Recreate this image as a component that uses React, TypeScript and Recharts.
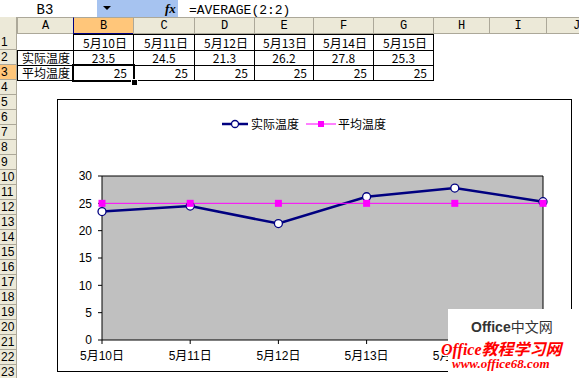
import type { CSSProperties } from "react";
import {
  CartesianGrid,
  Line,
  LineChart,
  ReferenceLine,
  XAxis,
  YAxis,
} from "recharts";

const dates = ["5月10日", "5月11日", "5月12日", "5月13日", "5月14日", "5月15日"];
const actualTemps = [23.5, 24.5, 21.3, 26.2, 27.8, 25.3];
const averageTemps = [25, 25, 25, 25, 25, 25];
const yTicks = [0, 5, 10, 15, 20, 25, 30];
const seriesNames = ["实际温度", "平均温度"];

const columnLetters = ["A", "B", "C", "D", "E", "F", "G", "H", "I", "J"];
const rowNumbers = [
  1, 2, 3, 4, 5, 6, 7, 8, 9, 10, 11, 12, 13, 14, 15, 16, 17, 18, 19, 20, 21,
  22, 23,
];

// sheet geometry (pixels)
const COL_EDGES = [17, 73, 133, 194, 254, 313, 373, 433, 489, 546, 606];
const HEADER_TOP = 17;
const HEADER_BOTTOM = 34;
const rowTop = (n: number) => (n === 1 ? 34 : 35 + (n - 1) * 15);
const rowBottom = (n: number) => rowTop(n + 1);

const HEADER_BG = "#ece9d8";
const HEADER_LINE = "#aca899";
const SELECTED_BG = "#ffc67a";
const NAVY = "#000080";
const MAGENTA = "#ff00ff";

const cellFont = '"Noto Sans CJK SC", "Liberation Sans", sans-serif';
const chartFont = '"Liberation Sans", "Noto Sans CJK SC", sans-serif';

const chartData = dates.map((date, i) => ({
  date,
  actual: actualTemps[i],
  average: averageTemps[i],
}));

function Cell({
  col,
  row,
  text,
  align = "center",
  bordered = true,
}: {
  col: number;
  row: number;
  text?: string;
  align?: "left" | "center" | "right";
  bordered?: boolean;
}) {
  const left = COL_EDGES[col];
  const top = rowTop(row);
  const style: CSSProperties = {
    position: "absolute",
    left,
    top,
    width: COL_EDGES[col + 1] - left + 1,
    height: rowBottom(row) - top + 1,
    boxSizing: "border-box",
    border: bordered ? "1px solid #000" : "none",
    fontFamily: cellFont,
    fontSize: 12,
    lineHeight: `${rowBottom(row) - top - 1}px`,
    textAlign: align,
    paddingLeft: align === "left" ? 4 : 0,
    paddingRight: align === "right" ? 6 : 0,
    color: "#000",
    whiteSpace: "nowrap",
    overflow: "hidden",
  };
  return <div style={style}>{text}</div>;
}

const SquareDot = (props: any) => {
  const { cx, cy, index } = props;
  if (cx == null || cy == null) return <g key={`sq-${index}`} />;
  return (
    <rect
      key={`sq-${index}`}
      x={cx - 3.5}
      y={cy - 3.5}
      width={7}
      height={7}
      fill={MAGENTA}
    />
  );
};

function Sheet() {
  return (
    <>
      {/* formula bar */}
      <div
        style={{
          position: "absolute",
          left: 97,
          top: 0,
          width: 81,
          height: 17,
          background: "#a6c3f0",
        }}
      />
      <svg
        width={579}
        height={18}
        style={{ position: "absolute", left: 0, top: 0 }}
      >
        <text
          x={45}
          y={14}
          textAnchor="middle"
          fontFamily='"Liberation Mono", monospace'
          fontSize={14}
        >
          B3
        </text>
        <polygon points="103,6 111,6 107,10" fill="#000" />
        <text
          x={165}
          y={13}
          fontFamily='"Liberation Serif", serif'
          fontStyle="italic"
          fontWeight="bold"
          fontSize={13}
        >
          fx
        </text>
        <text
          x={189}
          y={14}
          fontFamily='"Liberation Mono", monospace'
          fontSize={13}
        >
          =AVERAGE(2:2)
        </text>
      </svg>

      {/* column headers */}
      <div
        style={{
          position: "absolute",
          left: 0,
          top: HEADER_TOP,
          width: 579,
          height: HEADER_BOTTOM - HEADER_TOP,
          background: HEADER_BG,
          boxSizing: "border-box",
          borderTop: `1px solid ${HEADER_LINE}`,
          borderBottom: `1px solid ${HEADER_LINE}`,
        }}
      />
      {columnLetters.map((letter, i) => (
        <div
          key={letter}
          style={{
            position: "absolute",
            left: COL_EDGES[i],
            top: HEADER_TOP,
            width: COL_EDGES[i + 1] - COL_EDGES[i],
            height: HEADER_BOTTOM - HEADER_TOP,
            boxSizing: "border-box",
            background: letter === "B" ? SELECTED_BG : HEADER_BG,
            borderTop: `1px solid ${HEADER_LINE}`,
            borderLeft: `1px solid ${letter === "B" ? NAVY : HEADER_LINE}`,
            borderBottom: `1px solid ${letter === "B" ? NAVY : HEADER_LINE}`,
            textAlign: "center",
            lineHeight: "16px",
            fontFamily: '"Liberation Mono", monospace',
            fontSize: 12,
          }}
        >
          {letter}
        </div>
      ))}

      {/* row headers */}
      <div
        style={{
          position: "absolute",
          left: 0,
          top: HEADER_TOP,
          width: 17,
          height: 378 - HEADER_TOP,
          background: HEADER_BG,
          boxSizing: "border-box",
          borderRight: `1px solid ${HEADER_LINE}`,
        }}
      />
      {rowNumbers.map((n) => (
        <div
          key={n}
          style={{
            position: "absolute",
            left: 0,
            top: rowTop(n),
            width: 17,
            height: rowBottom(n) - rowTop(n),
            boxSizing: "border-box",
            background: n === 3 ? SELECTED_BG : HEADER_BG,
            borderBottom: `1px solid ${HEADER_LINE}`,
            borderRight: `1px solid ${HEADER_LINE}`,
            fontFamily: chartFont,
            fontSize: 12,
            lineHeight: `${rowBottom(n) - rowTop(n)}px`,
            paddingLeft: 1,
            color: "#000",
          }}
        >
          {n}
        </div>
      ))}

      {/* table A1:G3 */}
      {dates.map((d, i) => (
        <Cell key={`d-${d}`} col={i + 1} row={1} text={d} align="right" />
      ))}
      <Cell col={0} row={2} text={seriesNames[0]} align="left" />
      <Cell col={0} row={3} text={seriesNames[1]} align="left" />
      {actualTemps.map((v, i) => (
        <Cell key={`a-${i}`} col={i + 1} row={2} text={v.toFixed(1)} />
      ))}
      {averageTemps.map((v, i) => (
        <Cell key={`m-${i}`} col={i + 1} row={3} text={String(v)} align="right" />
      ))}
      {/* active cell B3 */}
      <div
        style={{
          position: "absolute",
          left: COL_EDGES[1] - 1,
          top: rowTop(3) - 1,
          width: COL_EDGES[2] - COL_EDGES[1] + 3,
          height: rowBottom(3) - rowTop(3) + 3,
          boxSizing: "border-box",
          border: "2px solid #000",
        }}
      />
      <div
        style={{
          position: "absolute",
          left: COL_EDGES[2] - 2,
          top: rowBottom(3) - 1,
          width: 5,
          height: 5,
          background: "#000",
          border: "1px solid #fff",
        }}
      />
    </>
  );
}

function ChartLegend() {
  return (
    <svg
      width={200}
      height={20}
      style={{ position: "absolute", left: 215, top: 114 }}
    >
      <line x1={7} y1={10} x2={33} y2={10} stroke={NAVY} strokeWidth={2.5} />
      <circle cx={20} cy={10} r={3.5} fill="#fff" stroke={NAVY} strokeWidth={1.3} />
      <text x={36} y={15} fontFamily={chartFont} fontSize={12} fill="#000">
        {seriesNames[0]}
      </text>
      <line x1={91} y1={10} x2={121} y2={10} stroke={MAGENTA} strokeWidth={1} />
      <rect x={103} y={7} width={6} height={6} fill={MAGENTA} />
      <text x={123} y={15} fontFamily={chartFont} fontSize={12} fill="#000">
        {seriesNames[1]}
      </text>
    </svg>
  );
}

function Watermark() {
  return (
    <svg
      width={579}
      height={378}
      style={{ position: "absolute", left: 0, top: 0, pointerEvents: "none" }}
    >
      <rect x={448} y={309} width={131} height={69} fill="#fff" />
      <text x={471} y={332} fontFamily={chartFont} fontSize={14} fill="#333">
        <tspan fontWeight="bold">Office</tspan>中文网
      </text>
      <text
        x={441}
        y={355}
        fontFamily='"Liberation Serif", "Noto Sans CJK SC", serif'
        fontSize={16}
        fontStyle="italic"
        fontWeight="bold"
        fill="#ff0000"
        stroke="#fff"
        strokeWidth={3}
        paintOrder="stroke"
      >
        Office教程学习网
      </text>
      <text
        x={452}
        y={368}
        fontFamily='"Liberation Serif", serif'
        fontSize={13}
        fontStyle="italic"
        fontWeight="bold"
        fill="#ff0000"
        stroke="#fff"
        strokeWidth={3}
        paintOrder="stroke"
      >
        www.office68.com
      </text>
    </svg>
  );
}

export default function App() {
  return (
    <div
      style={{
        position: "absolute",
        left: 0,
        top: 0,
        width: 579,
        height: 378,
        overflow: "hidden",
        background: "#fff",
      }}
    >
      <Sheet />

      {/* chart area */}
      <div
        style={{
          position: "absolute",
          left: 57,
          top: 99,
          width: 515,
          height: 273,
          boxSizing: "border-box",
          border: "1px solid #000",
          background: "#fff",
        }}
      />
      <div style={{ position: "absolute", left: 57, top: 99 }}>
        <LineChart
          width={515}
          height={273}
          data={chartData}
          margin={{ top: 77, right: 29, bottom: 5, left: 0 }}
          style={{ fontFamily: chartFont }}
        >
          <CartesianGrid fill="#c0c0c0" horizontal={false} vertical={false} />
          <ReferenceLine y={30} stroke="#000" strokeWidth={1} />
          <ReferenceLine x={dates[dates.length - 1]} stroke="#000" strokeWidth={1} />
          <XAxis
            dataKey="date"
            interval={0}
            padding={{ left: 0, right: 0 }}
            height={27}
            tickSize={4}
            tickMargin={7}
            stroke="#000"
            tick={{ fill: "#000", fontSize: 12 }}
          />
          <YAxis
            domain={[0, 30]}
            ticks={yTicks}
            interval={0}
            width={45}
            tickSize={4}
            tickMargin={6}
            stroke="#000"
            tick={{ fill: "#000", fontSize: 12 }}
          />
          <Line
            dataKey="actual"
            name={seriesNames[0]}
            type="linear"
            stroke={NAVY}
            strokeWidth={2.5}
            dot={{ r: 4, fill: "#fff", stroke: NAVY, strokeWidth: 1.3 }}
            isAnimationActive={false}
          />
          <Line
            dataKey="average"
            name={seriesNames[1]}
            type="linear"
            stroke={MAGENTA}
            strokeWidth={1}
            dot={SquareDot}
            isAnimationActive={false}
          />
        </LineChart>
      </div>
      <ChartLegend />
      <Watermark />
    </div>
  );
}
